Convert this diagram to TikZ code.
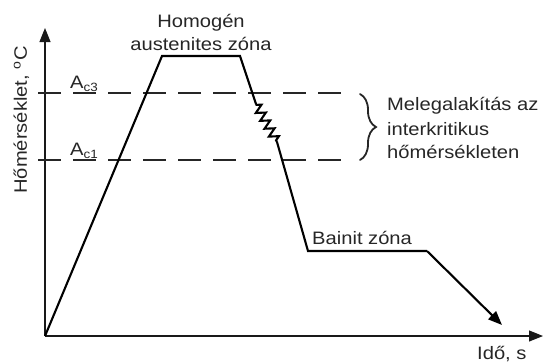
\documentclass[tikz,border=0pt]{standalone}
\usepackage{fontspec}
\setmainfont[FakeStretch=1.12]{Liberation Sans}
\usetikzlibrary{arrows.meta,decorations.pathmorphing,decorations.pathreplacing}
\tikzset{
  axisline/.style={line width=1.1pt, draw=black!90, -{Triangle[length=14pt,width=11pt]}},
  curve/.style={line width=2.1pt, draw=black, line join=miter},
  limitline/.style={line width=1.1pt, draw=black!85, dash pattern=on 23pt off 12pt},
  lbl/.style={font=\fontsize{18}{20}\selectfont, text=black!85, inner sep=0pt},
}
\begin{document}
\begin{tikzpicture}[x=1pt,y=-1pt]
\useasboundingbox (0,0) rectangle (543,362);
% axes
\coordinate (O) at (45,336);
\coordinate (Ytip) at (45,28);
\coordinate (Xtip) at (543,336);
\draw[axisline] (O) -- (Ytip);
\draw[axisline] (O) -- (Xtip);
% critical lines
\coordinate (c3a) at (38,93);
\coordinate (c3b) at (347,93);
\coordinate (c1a) at (38,160);
\coordinate (c1b) at (347,160);
\draw[limitline] (c3a) -- (c3b);
\draw[limitline] (c1a) -- (c1b);
% labels
\node[lbl, anchor=base west] (ac3) at (70,88) {A\raisebox{-3pt}{\fontsize{12}{12}\selectfont c3}};
\node[lbl, anchor=base west] (ac1) at (70,155) {A\raisebox{-3pt}{\fontsize{12}{12}\selectfont c1}};
\node[lbl, anchor=base, rotate=90] (ylab) at (27,120) {Hőmérséklet, \textsuperscript{o}C};
\node[lbl, anchor=base west] (xlab) at (477,359) {Idő, s};
\node[lbl, anchor=base] (hom1) at (201,27) {Homogén};
\node[lbl, anchor=base] (hom2) at (201,50) {austenites zóna};
\node[lbl, anchor=base west] (bain) at (312,244) {Bainit zóna};
\node[lbl, anchor=base west] (m1) at (387,110) {Melegalakítás az};
\node[lbl, anchor=base west] (m2) at (387,135) {interkritikus};
\node[lbl, anchor=base west] (m3) at (387,158) {hőmérsékleten};
% brace
\coordinate (bt) at (360,94);
\coordinate (bb) at (360,160);
\draw[line width=1.8pt, black!85, line cap=round, decorate, decoration={brace, amplitude=16pt}] (bt) -- (bb);
% process curve
\coordinate (p0) at (45,336);
\coordinate (p1) at (162,56);
\coordinate (p2) at (240,56);
\coordinate (z1) at (256,104);
\coordinate (z2) at (277,142);
\coordinate (p3) at (308,251);
\coordinate (p4) at (427,251);
\coordinate (p5) at (502,325);
\draw[curve] (p0) -- (p1) -- (p2) -- (z1);
\draw[curve, decorate, decoration={zigzag, segment length=9pt, amplitude=4.5pt, pre length=1pt, post length=1pt}] (z1) -- (z2);
\draw[curve] (z2) -- (p3) -- (p4);
\draw[line width=2.1pt, -{Triangle[length=14pt,width=11pt]}] (p4) -- (p5);
\end{tikzpicture}
\end{document}
